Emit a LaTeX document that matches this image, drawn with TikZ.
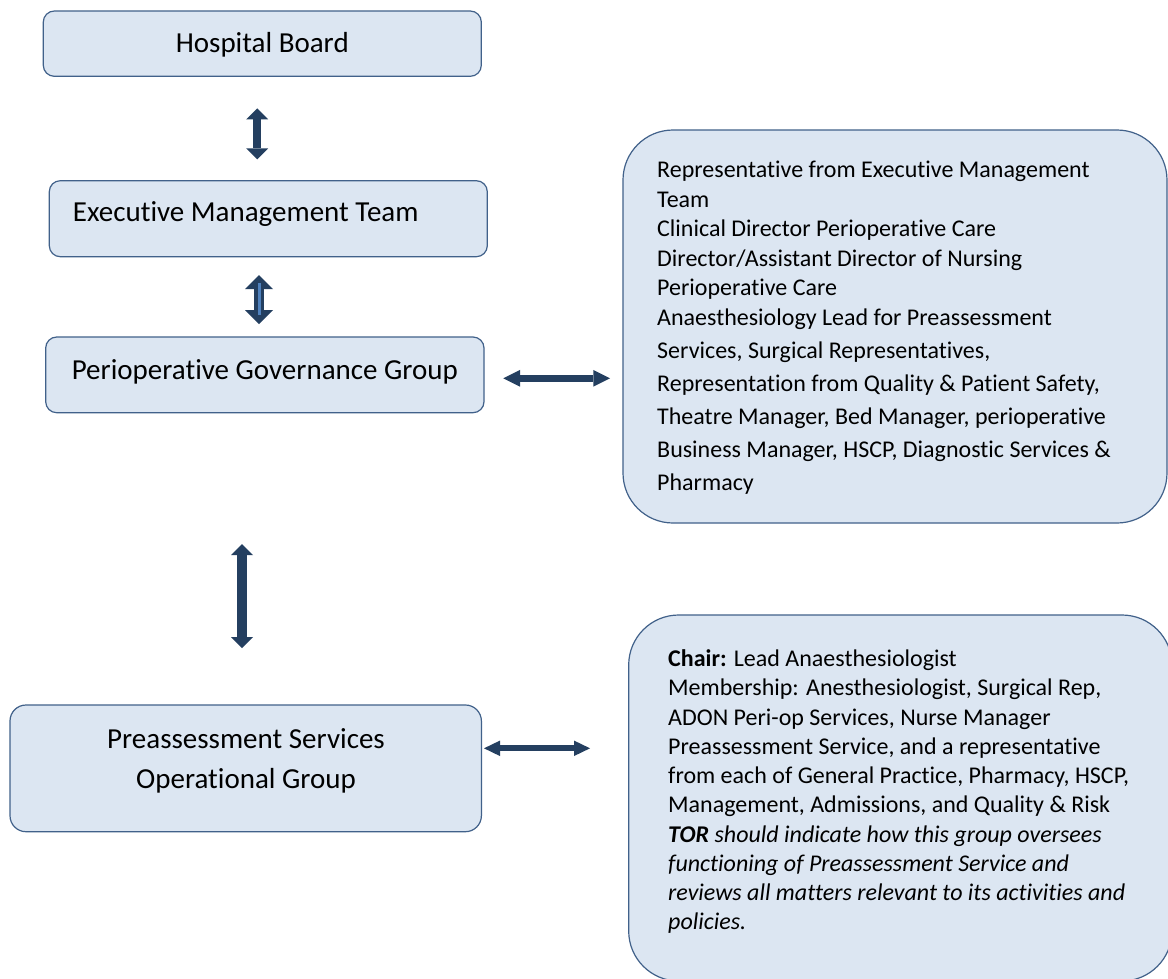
\documentclass[tikz,border=0pt]{standalone}
\usepackage{fontspec}
\setmainfont{Carlito}[Ligatures=NoCommon]
\usetikzlibrary{arrows.meta,calc}
\definecolor{boxfill}{HTML}{DCE6F2}
\definecolor{boxline}{HTML}{41618A}
\definecolor{arrowc}{HTML}{243F60}
\definecolor{stripec}{HTML}{4F81BD}
\newcommand{\sidetext}[2]{\vtop{\hsize=540pt\parindent=0pt\parskip=0pt\fontsize{24pt}{#1}\selectfont #2}}
\begin{document}
\begin{tikzpicture}[x=1pt,y=-1pt,
  box/.style={draw=boxline, fill=boxfill, line width=1.2pt, rectangle, rounded corners=#1, inner sep=0pt},
  headtext/.style={inner sep=0pt, font=\fontsize{29pt}{40pt}\selectfont},
  sidebox/.style={inner sep=0pt, anchor=base west},
  arr/.style n args={3}{draw=arrowc, line width=#1,
     arrows={Triangle[width=#2,length=#3,line width=0pt 0 0]-Triangle[width=#2,length=#3,line width=0pt 0 0]}}
]
\fill[white] (0,0) rectangle (1168,978);
\useasboundingbox (0,0) rectangle (1168,978);

% left boxes
\node[box=11pt, minimum width=438pt, minimum height=65.3pt] (hb) at (262.3,43.65) {};
\node[box=11pt, minimum width=438pt, minimum height=76pt] (emt) at (268.3,218.7) {};
\node[box=11pt, minimum width=438.3pt, minimum height=75.7pt] (pgg) at (264.85,374.85) {};
\node[box=16pt, minimum width=471.4pt, minimum height=126.7pt] (psog) at (245.7,768.35) {};

% right boxes
\node[box=50pt, minimum width=544pt, minimum height=393pt] (rb1) at (895,326.5) {};
\node[box=50pt, minimum width=543.3pt, minimum height=366pt] (rb2) at (900.35,798) {};

% heading texts
\node[headtext, anchor=base] (hbt) at (262.3,52.3) {Hospital Board};
\node[headtext, anchor=base west] (emtt) at (72.7,221.7) {Executive Management Team};
\node[headtext, anchor=base] (pggt) at (264.8,379) {Perioperative Governance Group};
\node[headtext, anchor=base] (psogt) at (246,748.3) {\fontsize{29pt}{40pt}\selectfont\begin{tabular}[t]{@{}c@{}}Preassessment Services\\Operational Group\end{tabular}};

% side texts
\node[sidebox] (rb1t) at (657,177.5) {\sidetext{29.5pt}{%
Representative from Executive Management\par
Team\par
Clinical Director Perioperative Care\par
Director/Assistant Director of Nursing\par
Perioperative Care\par
Anaesthesiology Lead for Preassessment\par
\baselineskip=33pt Services, Surgical Representatives,\par
Representation from Quality \& Patient Safety,\par
Theatre Manager, Bed Manager, perioperative\par
Business Manager, HSCP, Diagnostic Services \&\par
Pharmacy}};

\node[sidebox] (rb2t) at (668,666.7) {\sidetext{29.25pt}{%
\textbf{Chair:} Lead Anaesthesiologist\par
Membership: Anesthesiologist, Surgical Rep,\par
ADON Peri-op Services, Nurse Manager\par
Preassessment Service, and a representative\par
from each of General Practice, Pharmacy, HSCP,\par
Management, Admissions, and Quality \& Risk\par
\textit{\textbf{TOR} should indicate how this group oversees}\par
\textit{functioning of Preassessment Service and}\par
\textit{reviews all matters relevant to its activities and}\par
\textit{policies.}}};

% arrow end points
\coordinate (a1s) at (257.2,108.3);
\coordinate (a1e) at (257.2,159.3);
\coordinate (a2s) at (259,275);
\coordinate (a2e) at (259,324);
\coordinate (a3s) at (242,544);
\coordinate (a3e) at (242,648);
\coordinate (h1s) at (503.3,378.3);
\coordinate (h1e) at (610,378.3);
\coordinate (h2s) at (484,748.3);
\coordinate (h2e) at (590,748.3);

% arrows
\draw[arr={8pt}{22pt}{11pt}] (a1s) -- (a1e);
\draw[arr={10pt}{28pt}{14pt}] (a2s) -- (a2e);
\draw[stripec, line width=3pt] ($(a2s)+(0,8)$) -- ($(a2e)+(0,-9)$);
\draw[arr={10pt}{22pt}{11pt}] (a3s) -- (a3e);
\draw[arr={6.7pt}{16.7pt}{16.7pt}] (h1s) -- (h1e);
\draw[arr={6pt}{15.5pt}{16pt}] (h2s) -- (h2e);
\end{tikzpicture}
\end{document}
